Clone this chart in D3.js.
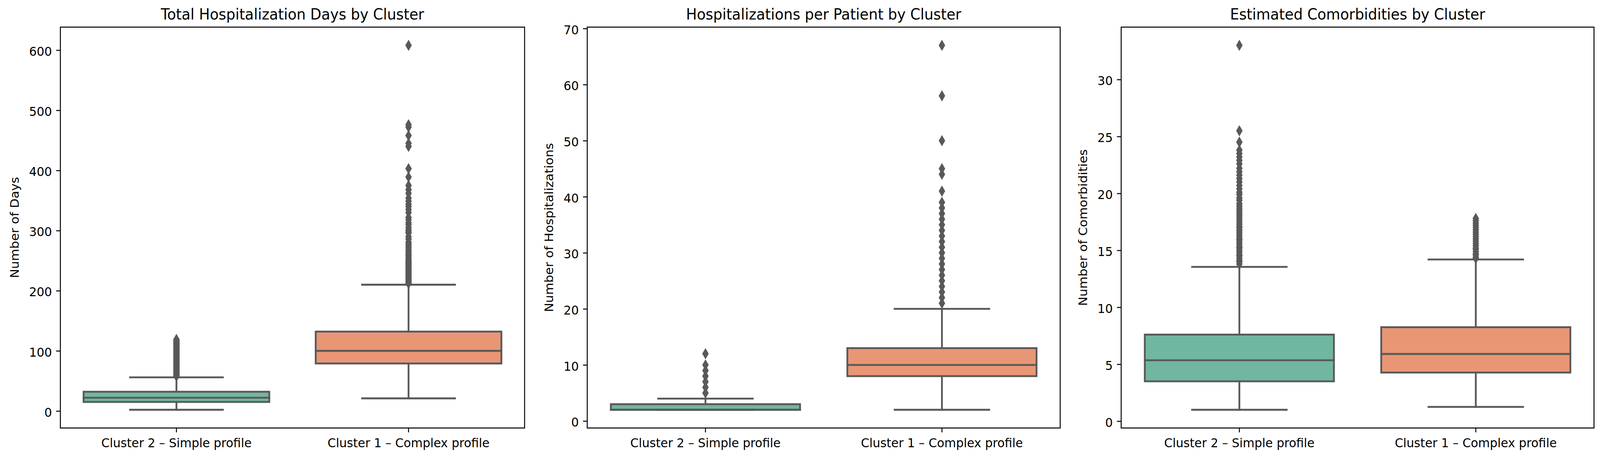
<!DOCTYPE html>
<html>
<head>
<meta charset="utf-8">
<script src="https://cdn.jsdelivr.net/npm/d3@7"></script>
<style>
  html, body { margin: 0; padding: 0; background: #ffffff; overflow: hidden; width: 100%; height: 100%; }
  svg { display: block; width: 100vw; height: 100vh; }
  text { font-family: "DejaVu Sans", sans-serif; }
</style>
</head>
<body>
<svg id="chart" viewBox="0 0 4266 1171" preserveAspectRatio="none"></svg>
<script>
// ---------------- DATA ----------------
const categories = ["Cluster 2 – Simple profile", "Cluster 1 – Complex profile"];
const panelTitles = [
  "Total Hospitalization Days by Cluster",
  "Hospitalizations per Patient by Cluster",
  "Estimated Comorbidities by Cluster"
];
const yAxisLabels = ["Number of Days", "Number of Hospitalizations", "Number of Comorbidities"];

// five-number summaries per category: [lower whisker, Q1, median, Q3, upper whisker]
const daysStats = [[2, 15, 22, 32, 56], [21, 79, 100, 132, 210]];
const daysOutliersC2 = [58,59,60,61,62,63,64,65,66,67,68,69,70,71,72,73,74,75,76,77,78,79,80,81,82,83,84,85,86,87,88,89,90,91,92,93,94,95,96,97,98,99,100,101,102,103,104,105,106,107,108,109,110,111,112,113,114,115,116,117,118,119];
const daysOutliersC1 = [212,213,214,216,218,220,222,224,226,228,230,232,234,236,238,240,242,244,246,248,250,252,255,258,260,263,266,269,272,275,278,281,286,290,296,298,301,305,310,313,318,322,330,335,340,344,349,354,362,368,375,389,403,440,445,458,472,476,608];
const daysTicks = [0, 100, 200, 300, 400, 500, 600];

const hospStats = [[2, 2, 2, 3, 4], [2, 8, 10, 13, 20]];
const hospOutliersC2 = [5, 6, 7, 8, 9, 10, 12];
const hospOutliersC1 = [21,22,23,24,25,26,27,28,29,30,31,32,33,34,35,36,37,38,39,41,44,45,50,58,67];
const hospTicks = [0, 10, 20, 30, 40, 50, 60, 70];

const comorbStats = [[1.0, 3.5, 5.35, 7.6, 13.55], [1.25, 4.27, 5.9, 8.25, 14.2]];
const comorbOutliersC2 = [13.8,14.0,14.1,14.3,14.5,14.6,14.8,15.0,15.2,15.3,15.5,15.7,15.9,16.0,16.2,16.4,16.6,16.8,17.0,17.1,17.3,17.5,17.7,17.9,18.1,18.3,18.5,18.7,18.9,19.1,19.4,19.6,19.9,20.1,20.4,20.7,21.0,21.3,21.6,21.9,22.2,22.6,22.9,23.2,23.5,23.8,24.5,25.5,33.0];
const comorbOutliersC1 = [14.3,14.4,14.6,14.7,14.9,15.1,15.2,15.4,15.6,15.8,16.0,16.2,16.4,16.6,16.8,17.0,17.2,17.4,17.6,17.8];
const comorbTicks = [0, 5, 10, 15, 20, 25, 30];

const boxColors = ["#71b6a0", "#e99675"];
const lineGray = "#595959";

// ---------------- LAYOUT ----------------
const axTop = 69.5, axBottom = 1096.7;
const panels = [
  { left: 161,    right: 1398.7, stats: daysStats,   outliers: [daysOutliersC2, daysOutliersC1],     ticks: daysTicks },
  { left: 1565.7, right: 2826.7, stats: hospStats,   outliers: [hospOutliersC2, hospOutliersC1],     ticks: hospTicks },
  { left: 2989.3, right: 4250,   stats: comorbStats, outliers: [comorbOutliersC2, comorbOutliersC1], ticks: comorbTicks }
];
const pt = 3.2; // px per point
const lw = 1.5 * pt, spineW = 0.8 * pt, tickLen = 3.5 * pt, tickPad = 3.5 * pt;
const tickFont = 10 * pt, titleFont = 12 * pt;
const dh = 5 * Math.SQRT2 / 2 * pt, dw = 0.6 * dh; // thin diamond half sizes

const svg = d3.select("#chart");

panels.forEach((p, pi) => {
  const g = svg.append("g");

  const allVals = [];
  p.stats.forEach(s => allVals.push(...s));
  p.outliers.forEach(o => allVals.push(...o));
  const [mn, mx] = d3.extent(allVals);
  const m = (mx - mn) * 0.05;

  const y = d3.scaleLinear().domain([mn - m, mx + m]).range([axBottom, axTop]);
  const x = d3.scaleBand().domain(categories).range([p.left, p.right])
    .paddingInner(0.2).paddingOuter(0.1);
  const bw = x.bandwidth();

  // boxes
  categories.forEach((c, ci) => {
    const [lo, q1, med, q3, hi] = p.stats[ci];
    const xc = x(c) + bw / 2;
    const bg = g.append("g");
    bg.append("rect")
      .attr("x", x(c)).attr("width", bw)
      .attr("y", y(q3)).attr("height", y(q1) - y(q3))
      .attr("fill", boxColors[ci]).attr("stroke", lineGray)
      .attr("stroke-width", lw).attr("stroke-linejoin", "miter");
    const line = (x1, y1, x2, y2) => bg.append("line")
      .attr("x1", x1).attr("y1", y1).attr("x2", x2).attr("y2", y2)
      .attr("stroke", lineGray).attr("stroke-width", lw).attr("stroke-linecap", "square");
    line(xc, y(q3), xc, y(hi));
    line(xc, y(q1), xc, y(lo));
    line(xc - bw / 4, y(hi), xc + bw / 4, y(hi));
    line(xc - bw / 4, y(lo), xc + bw / 4, y(lo));
    line(x(c), y(med), x(c) + bw, y(med));
    bg.selectAll("path.flier").data(p.outliers[ci]).enter().append("path")
      .attr("class", "flier")
      .attr("d", `M0,${-dh}L${dw},0L0,${dh}L${-dw},0Z`)
      .attr("transform", d => `translate(${xc},${y(d)})`)
      .attr("fill", lineGray).attr("stroke", lineGray).attr("stroke-width", 1.0 * pt);
  });

  // y axis
  const yAx = g.append("g").attr("transform", `translate(${p.left},0)`)
    .call(d3.axisLeft(y).tickValues(p.ticks).tickSize(tickLen).tickPadding(tickPad).tickFormat(d3.format("d")));
  yAx.select(".domain").remove();
  yAx.selectAll(".tick line").attr("stroke", "#000").attr("stroke-width", spineW);
  yAx.selectAll(".tick text").attr("font-size", tickFont).attr("fill", "#000")
    .attr("font-family", "DejaVu Sans").attr("dy", "0.44em");

  // x axis
  const xAx = g.append("g").attr("transform", `translate(0,${axBottom})`)
    .call(d3.axisBottom(x).tickSize(tickLen).tickPadding(tickPad));
  xAx.select(".domain").remove();
  xAx.selectAll(".tick line").attr("stroke", "#000").attr("stroke-width", spineW);
  xAx.selectAll(".tick text").attr("font-size", tickFont).attr("fill", "#000")
    .attr("font-family", "DejaVu Sans").attr("dy", "0.84em");

  // spines
  g.append("rect").attr("x", p.left).attr("y", axTop)
    .attr("width", p.right - p.left).attr("height", axBottom - axTop)
    .attr("fill", "none").attr("stroke", "#000").attr("stroke-width", spineW);

  // title
  g.append("text").attr("x", (p.left + p.right) / 2).attr("y", axTop - 6 * pt)
    .attr("text-anchor", "middle").attr("font-size", titleFont).attr("fill", "#000")
    .text(panelTitles[pi]);

  // y label
  let maxW = 0;
  yAx.selectAll(".tick text").each(function () { maxW = Math.max(maxW, this.getComputedTextLength()); });
  const lx = p.left - tickLen - tickPad - maxW - 4 * pt - 15;
  const ly = (axTop + axBottom) / 2;
  g.append("text").attr("transform", `translate(${lx},${ly}) rotate(-90)`)
    .attr("text-anchor", "middle").attr("font-size", tickFont).attr("fill", "#000")
    .text(yAxisLabels[pi]);
});
</script>
</body>
</html>
